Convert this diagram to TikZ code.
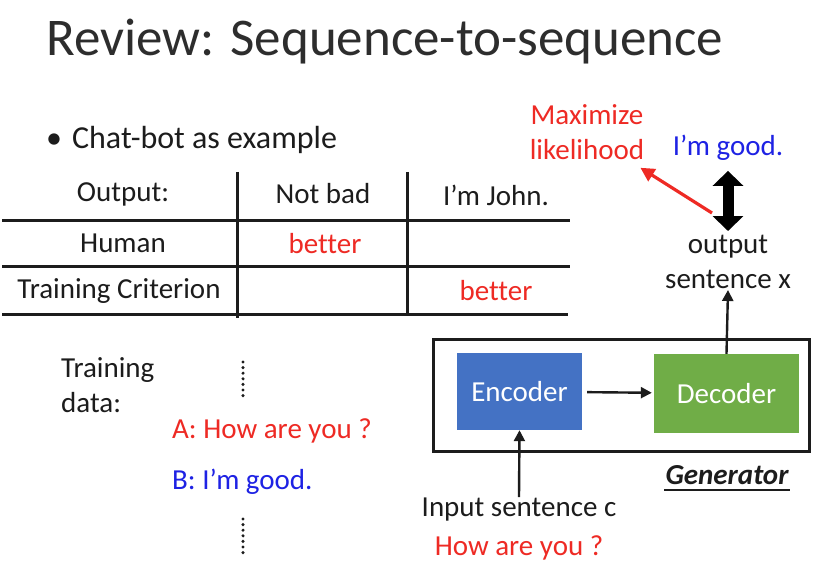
\documentclass[tikz,border=0pt]{standalone}
\usepackage{fontspec}
\setmainfont{Carlito}[Ligatures=CommonOff]
\usetikzlibrary{arrows.meta,positioning}
\definecolor{slred}{RGB}{238,42,36}
\definecolor{slblue}{RGB}{30,34,228}
\definecolor{slink}{RGB}{28,28,28}
\definecolor{slgray}{RGB}{45,45,45}
\definecolor{encblue}{RGB}{68,114,196}
\definecolor{decgreen}{RGB}{112,173,71}
\tikzset{
  txt/.style={text=slink, inner sep=1pt},
  redtxt/.style={text=slred, inner sep=1pt},
  bluetxt/.style={text=slblue, inner sep=1pt},
  tabline/.style={line width=3pt, draw=slink},
  netbox/.style={fill=#1, text=white, inner sep=2pt},
  slarr/.style={-{Triangle[length=11pt,width=11pt]}, line width=2.4pt, draw=slink},
  vdots/.style={line width=3.4pt, line cap=round, dash pattern=on 0pt off 5.6pt, draw=slink}
}

\begin{document}
\begin{tikzpicture}[x=1pt, y=-1pt, font=\fontsize{29}{35}\selectfont]
  \useasboundingbox[fill=white] (0,0) rectangle (836,564);
  \node[txt, anchor=west, text=slgray, font=\fontsize{53}{60}\selectfont] (title) at (45,42) {Review: Sequence-to-sequence};
  \node[txt, anchor=west, font=\fontsize{32}{38}\selectfont] (chat) at (45,140) {\textbullet\hspace{10pt}Chat-bot as example};
  % table
  \draw[tabline] (2,221) -- (570,221);
  \draw[tabline] (2,267) -- (570,267);
  \draw[tabline] (2,315) -- (568,315);
  \draw[tabline] (237,172) -- (237,318);
  \draw[tabline] (407,172) -- (407,316);
  \node[txt] (outhead) at (123,194) {Output:};
  \node[txt] (notbad) at (323,194) {Not bad};
  \node[txt] (john) at (496,195) {I’m John.};
  \node[txt] (human) at (123,243) {Human};
  \node[redtxt] (hbetter) at (325,244) {better};
  \node[txt] (crit) at (119,291) {Training Criterion};
  \node[redtxt] (cbetter) at (496,291) {better};
  % training data
  \node[txt, anchor=west, align=left] (data) at (60,385) {Training\\data:};
  \draw[vdots] (243,362) -- (243,398);
  \node[redtxt, anchor=west] (qa) at (171,431) {A: How are you ?};
  \node[bluetxt, anchor=west] (qb) at (171,482) {B: I’m good.};
  \draw[vdots] (243,519) -- (243,557);
  % generator
  \node[draw=slink, line width=3pt, minimum width=376pt, minimum height=112pt] (gen) at (621.5,395.5) {};
  \node[netbox=encblue, minimum width=125pt, minimum height=77pt] (enc) at (519.5,391.5) {Encoder};
  \node[netbox=decgreen, minimum width=145pt, minimum height=79pt] (dec) at (726.5,393.5) {Decoder};
  \draw[slarr, shorten <=5pt, shorten >=2pt] (enc) -- (dec);
  \node[txt, font=\fontsize{29}{35}\bfseries\itshape\selectfont] (genlbl) at (727,475) {Generator};
  \draw[line width=1.6pt, draw=slink] ([yshift=-4pt]genlbl.south west) -- ([yshift=-4pt]genlbl.south east);
  \node[txt] (inp) at (519,510) {Input sentence c};
  \node[redtxt] (inq) at (519,548) {How are you ?};
  \draw[slarr] (inp.north) -- (enc.south);
  % output side
  \node[txt, align=center, font=\fontsize{29}{35}\selectfont] (outx) at (728,262) {output\\sentence x};
  \draw[slarr] (dec.north) -- (outx.south);
  \node[bluetxt] (good) at (728,148) {I’m good.};
  \draw[{Triangle[length=15pt,width=30pt]}-{Triangle[length=15pt,width=30pt]}, line width=11pt, draw=black, shorten <=9pt, shorten >=3pt] (good.south) -- (outx.north);
  \node[redtxt, align=center] (maxlik) at (587,132) {Maximize\\likelihood};
  \coordinate (pen) at (712,213);
  \draw[-{Triangle[length=14pt,width=14pt]}, line width=3.2pt, draw=slred] (pen) -- ([xshift=-5pt,yshift=-7pt]maxlik.south east);
\end{tikzpicture}
\end{document}
